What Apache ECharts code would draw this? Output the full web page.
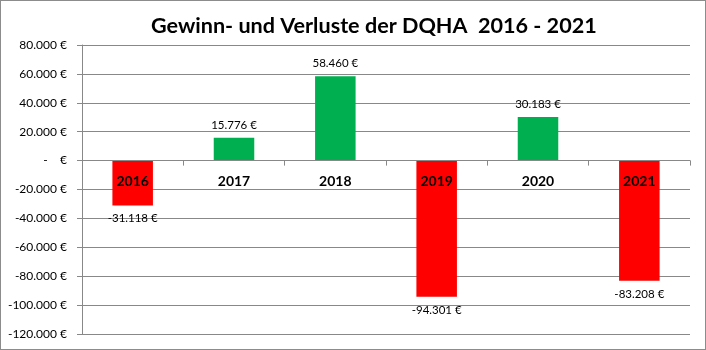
<!DOCTYPE html>
<html>
<head>
<meta charset="utf-8">
<script src="https://cdn.jsdelivr.net/npm/echarts@6/dist/echarts.min.js"></script>
<style>
  html, body { margin: 0; padding: 0; background: #fff; }
  #chart { width: 704px; height: 348px; border: 1px solid #8c8c8c; }
</style>
</head>
<body>
<div id="chart"></div>
<script>
const years = ['2016', '2017', '2018', '2019', '2020', '2021']
const results = [-31118, 15776, 58460, -94301, 30183, -83208]
const Y_MIN = -120000
const Y_MAX = 80000
const GREEN = '#00b050'
const RED = '#ff0000'
const FONT = 'Lato, "Liberation Sans", sans-serif'

const GRID = { left: 81, right: 15, top: 44, bottom: 15 }
const plotH = 348 - GRID.top - GRID.bottom
// put the category axis on the zero line
const zeroOffset = -plotH * (0 - Y_MIN) / (Y_MAX - Y_MIN)

function euro(v) {
  if (v === 0) return '-    €'
  const s = Math.abs(v).toString().replace(/\B(?=(\d{3})+(?!\d))/g, '.')
  return (v < 0 ? '-' : '') + s + ' €'
}

const chart = echarts.init(document.getElementById('chart'))

chart.setOption({
  animation: false,
  title: {
    text: 'Gewinn- und Verluste der DQHA  2016 - 2021',
    left: 150,
    top: 14,
    padding: 0,
    textStyle: { fontFamily: FONT, fontSize: 21.6, fontWeight: 'bold', color: '#000' },
  },
  grid: { ...GRID, outerBoundsMode: 'none', containLabel: false },
  xAxis: {
    type: 'category',
    data: years,
    position: 'bottom',
    offset: zeroOffset,
    z: 10,
    axisLine: { onZero: false, lineStyle: { color: '#888' } },
    axisTick: { show: true, length: 5, lineStyle: { color: '#888' } },
    axisLabel: { margin: 14, fontFamily: FONT, fontSize: 14, fontWeight: 'bold', color: '#000' },
  },
  yAxis: {
    type: 'value',
    min: Y_MIN,
    max: Y_MAX,
    interval: 20000,
    axisLine: { show: true, lineStyle: { color: '#888' } },
    axisTick: { show: true, length: 5, lineStyle: { color: '#888' } },
    splitLine: { lineStyle: { color: '#888' } },
    axisLabel: { margin: 15, fontFamily: FONT, fontSize: 12, color: '#000', formatter: euro },
  },
  series: [{
    type: 'bar',
    barWidth: '40%',
    data: results.map(v => ({
      value: v,
      itemStyle: { color: v < 0 ? RED : GREEN },
      label: { position: v < 0 ? 'bottom' : 'top' },
    })),
    label: {
      show: true,
      distance: 7,
      fontFamily: FONT,
      fontSize: 11.5,
      color: '#000',
      formatter: p => euro(p.value),
    },
  }],
})
</script>
</body>
</html>
